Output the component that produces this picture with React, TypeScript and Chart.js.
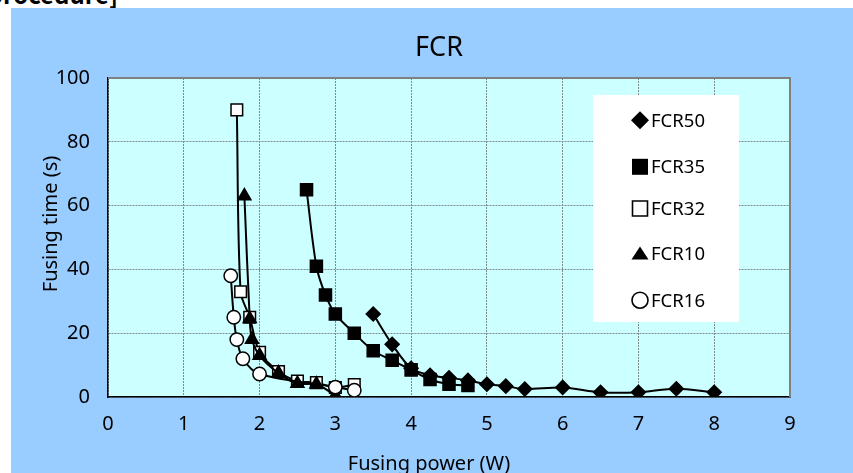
import React, { useEffect, useRef } from "react";
import { Chart, registerables } from "chart.js";

Chart.register(...registerables);

const chartTitle = "FCR";
const xAxisTitle = "Fusing power (W)";
const yAxisTitle = "Fusing time (s)";
const xMin = 0;
const xMax = 9;
const xStep = 1;
const yMin = 0;
const yMax = 100;
const yStep = 20;

const seriesNames = ["FCR50", "FCR35", "FCR32", "FCR10", "FCR16"];

const fcr50Power = [3.5, 3.75, 4.0, 4.25, 4.5, 4.75, 5.0, 5.25, 5.5, 6.0, 6.5, 7.0, 7.5, 8.0];
const fcr50Time = [26, 16.5, 9, 6.8, 6, 5.2, 4, 3.4, 2.5, 3, 1.5, 1.5, 2.6, 1.5];

const fcr35Power = [2.62, 2.75, 2.87, 3.0, 3.25, 3.5, 3.75, 4.0, 4.25, 4.5, 4.75];
const fcr35Time = [65, 41, 32, 26, 20, 14.5, 11.5, 8.5, 5.5, 4, 3.6];

const fcr32Power = [1.7, 1.75, 1.87, 2.0, 2.25, 2.5, 2.75, 3.0, 3.25];
const fcr32Time = [90, 33, 25, 14, 8, 5, 4.5, 3, 3.9];

const fcr10Power = [1.8, 1.87, 1.9, 2.0, 2.25, 2.5, 2.75, 3.0];
const fcr10Time = [63, 24.5, 18, 13, 7.5, 4.2, 4, 0.5];

const fcr16Power = [1.62, 1.66, 1.7, 1.78, 2.0, 3.0, 3.25];
const fcr16Time = [38, 25, 18, 12, 7.2, 3.1, 2.1];

const toPoints = (xs: number[], ys: number[]) => xs.map((x, i) => ({ x, y: ys[i] }));

const legendSymbols = ["diamond", "square", "openSquare", "triangle", "circle"];

function drawSymbol(ctx: CanvasRenderingContext2D, kind: string, cx: number, cy: number) {
  ctx.save();
  ctx.lineWidth = 1.6;
  ctx.strokeStyle = "#000";
  ctx.fillStyle = "#000";
  ctx.beginPath();
  if (kind === "diamond") {
    ctx.moveTo(cx, cy - 9);
    ctx.lineTo(cx + 9, cy);
    ctx.lineTo(cx, cy + 9);
    ctx.lineTo(cx - 9, cy);
    ctx.closePath();
    ctx.fill();
  } else if (kind === "square") {
    ctx.rect(cx - 8, cy - 8, 16, 16);
    ctx.fill();
  } else if (kind === "openSquare") {
    ctx.rect(cx - 7.5, cy - 7.5, 15, 15);
    ctx.fillStyle = "#fff";
    ctx.fill();
    ctx.stroke();
  } else if (kind === "triangle") {
    ctx.moveTo(cx, cy - 7);
    ctx.lineTo(cx + 8.5, cy + 6);
    ctx.lineTo(cx - 8.5, cy + 6);
    ctx.closePath();
    ctx.fill();
  } else {
    ctx.arc(cx, cy, 8, 0, Math.PI * 2);
    ctx.fillStyle = "#fff";
    ctx.fill();
    ctx.stroke();
  }
  ctx.restore();
}

const decorPlugin = {
  id: "decor",
  beforeDraw(chart: any) {
    const { ctx, chartArea: a } = chart;
    ctx.save();
    ctx.fillStyle = "#CCFFFF";
    ctx.fillRect(a.left, a.top, a.right - a.left, a.bottom - a.top);
    ctx.restore();
  },
  beforeDatasetsDraw(chart: any) {
    const { ctx, chartArea: a } = chart;
    ctx.save();
    ctx.strokeStyle = "#808080";
    ctx.lineWidth = 2;
    ctx.beginPath();
    ctx.moveTo(a.left, a.top);
    ctx.lineTo(a.right, a.top);
    ctx.lineTo(a.right, a.bottom);
    ctx.stroke();
    ctx.restore();
  },
  afterDraw(chart: any) {
    const { ctx } = chart;
    ctx.save();
    ctx.fillStyle = "#000";
    ctx.font = '27px "Noto Sans"';
    ctx.textAlign = "center";
    ctx.textBaseline = "alphabetic";
    ctx.fillText(chartTitle, 428, 48);
    ctx.font = '20px "Noto Sans"';
    ctx.fillText(xAxisTitle, 418, 461.5);
    ctx.save();
    ctx.translate(45.7, 216);
    ctx.rotate(-Math.PI / 2);
    ctx.fillText(yAxisTitle, 0, 0);
    ctx.restore();
    ctx.fillStyle = "#fff";
    ctx.fillRect(582, 87, 146, 227);
    const baselines = [118.7, 165.3, 207, 252, 298.7];
    ctx.font = '18.5px "Noto Sans"';
    ctx.textAlign = "left";
    seriesNames.forEach((name, i) => {
      drawSymbol(ctx, legendSymbols[i], 629, baselines[i] - 6.5);
      ctx.fillStyle = "#000";
      ctx.fillText(name, 640, baselines[i]);
    });
    ctx.restore();
  },
};

export default function App() {
  const canvasRef = useRef<HTMLCanvasElement | null>(null);

  useEffect(() => {
    if (!canvasRef.current) return;
    const lineBase = {
      showLine: true,
      borderColor: "#000",
      borderWidth: 2,
      tension: 0.3,
      pointBorderColor: "#000",
      pointBorderWidth: 1.5,
    };
    const chart = new Chart(canvasRef.current, {
      type: "scatter",
      data: {
        datasets: [
          {
            ...lineBase,
            label: seriesNames[0],
            data: toPoints(fcr50Power, fcr50Time),
            pointStyle: "rectRot",
            pointRadius: 7,
            pointBackgroundColor: "#000",
            order: 5,
          },
          {
            ...lineBase,
            label: seriesNames[1],
            data: toPoints(fcr35Power, fcr35Time),
            pointStyle: "rect",
            pointRadius: 8.5,
            pointBackgroundColor: "#000",
            order: 4,
          },
          {
            ...lineBase,
            label: seriesNames[2],
            data: toPoints(fcr32Power, fcr32Time),
            pointStyle: "rect",
            pointRadius: 8.2,
            pointBackgroundColor: "#fff",
            order: 3,
          },
          {
            ...lineBase,
            label: seriesNames[3],
            data: toPoints(fcr10Power, fcr10Time),
            pointStyle: "triangle",
            pointRadius: 7.5,
            pointBackgroundColor: "#000",
            order: 2,
          },
          {
            ...lineBase,
            label: seriesNames[4],
            data: toPoints(fcr16Power, fcr16Time),
            pointStyle: "circle",
            pointRadius: 6.7,
            pointBackgroundColor: "#fff",
            order: 1,
          },
        ],
      },
      options: {
        responsive: false,
        animation: false,
        events: [],
        layout: { padding: { left: 0, top: 70, right: 63, bottom: 0 } },
        plugins: {
          legend: { display: false },
          title: { display: false },
          tooltip: { enabled: false },
        },
        scales: {
          x: {
            type: "linear",
            min: xMin,
            max: xMax,
            afterFit: (s: any) => {
              s.height = 76;
            },
            ticks: {
              stepSize: xStep,
              padding: 15,
              color: "#000",
              font: { family: "Noto Sans", size: 20 },
            },
            grid: { color: "#7d8b8b", lineWidth: 1, drawTicks: false },
            border: { color: "#000", width: 1.5, dash: [2, 1] },
          },
          y: {
            type: "linear",
            min: yMin,
            max: yMax,
            afterFit: (s: any) => {
              s.width = 97;
            },
            ticks: {
              stepSize: yStep,
              padding: 18,
              color: "#000",
              font: { family: "Noto Sans", size: 20 },
            },
            grid: { color: "#7d8b8b", lineWidth: 1, drawTicks: false },
            border: { color: "#000", width: 1.5, dash: [2, 1] },
          },
        },
      },
      plugins: [decorPlugin],
    });
    return () => chart.destroy();
  }, []);

  return (
    <div
      style={{
        position: "fixed",
        left: 0,
        top: 0,
        width: 853,
        height: 473,
        overflow: "hidden",
        background: "#fff",
      }}
    >
      <div
        style={{
          position: "absolute",
          right: 735,
          top: -18,
          whiteSpace: "nowrap",
          font: 'bold 24px/24px "Noto Sans CJK JP"',
          color: "#000",
        }}
      >
        [Fusing procedure]
      </div>
      <div
        style={{
          position: "absolute",
          left: 11,
          top: 8,
          width: 842,
          height: 465,
          background: "#99CCFF",
        }}
      >
        <canvas ref={canvasRef} width={842} height={465} style={{ display: "block" }} />
      </div>
    </div>
  );
}
